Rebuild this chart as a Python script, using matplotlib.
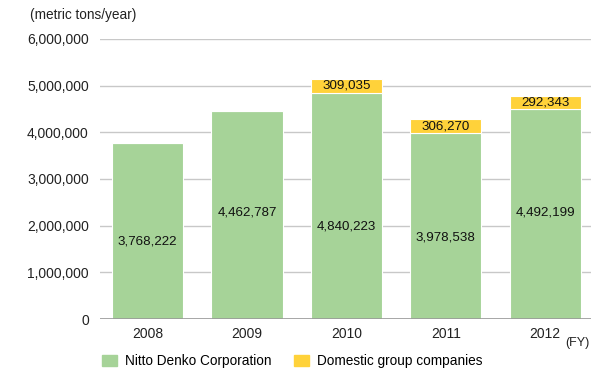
import matplotlib
matplotlib.use("Agg")
import matplotlib.pyplot as plt
from matplotlib.patches import Patch
from matplotlib.ticker import FuncFormatter

years = ["2008", "2009", "2010", "2011", "2012"]
nitto = [3768222, 4462787, 4840223, 3978538, 4492199]
domestic = [0, 0, 309035, 306270, 292343]
# where the inner label sits, as a fraction of the green bar height
label_frac = [0.44, 0.51, 0.41, 0.44, 0.51]

GREEN = "#a6d398"
YELLOW = "#ffd23a"

plt.rcParams["font.family"] = ["Liberation Sans", "DejaVu Sans"]

fig = plt.figure(figsize=(5.91, 3.74), dpi=100)
ax = fig.add_axes([0.169, 0.147, 0.831, 0.749])

x = range(len(years))
ax.bar(x, nitto, width=0.715, color=GREEN, edgecolor="white", linewidth=0.8, zorder=3)
ax.bar(x, domestic, width=0.715, bottom=nitto, color=YELLOW, edgecolor="white",
       linewidth=0.8, zorder=3)

lab_font = dict(fontsize=9.6, color="#111111", ha="center", va="center", zorder=4)
for i in x:
    ax.text(i, nitto[i] * label_frac[i], f"{nitto[i]:,}", **lab_font)
    if domestic[i] > 0:
        ax.text(i, nitto[i] + domestic[i] / 2, f"{domestic[i]:,}", **lab_font)

ax.set_xlim(-0.48, 4.46)
ax.set_ylim(0, 6000000)
ax.set_yticks(range(0, 6000001, 1000000))
ax.yaxis.set_major_formatter(FuncFormatter(lambda v, _: f"{int(v):,}"))
ax.set_xticks(list(x))
ax.set_xticklabels(years)
ax.grid(True, axis="y", color="#c8c8c8", linewidth=1, zorder=0)
ax.axhline(0, color="#999999", linewidth=1.2, zorder=5)
for s in ax.spines.values():
    s.set_visible(False)
ax.tick_params(length=0, labelsize=10, colors="#222222")
ax.tick_params(axis="y", pad=8)
ax.tick_params(axis="x", pad=6)

fig.text(30 / 591, 1 - 15 / 374, "(metric tons/year)", fontsize=9.8, color="#222222",
         ha="left", va="center")
fig.text(589 / 591, 1 - 343 / 374, "(FY)", fontsize=9, color="#222222",
         ha="right", va="center")

handles = [Patch(color=GREEN, label="Nitto Denko Corporation"),
           Patch(color=YELLOW, label="Domestic group companies")]
fig.legend(handles=handles, loc="center left", bbox_to_anchor=(90 / 591, 1 - 361 / 374),
           ncol=2, frameon=False, fontsize=9.8, handlelength=1.1, handleheight=0.9,
           columnspacing=1.6, handletextpad=0.6)

fig.savefig("out.png", dpi=100)
